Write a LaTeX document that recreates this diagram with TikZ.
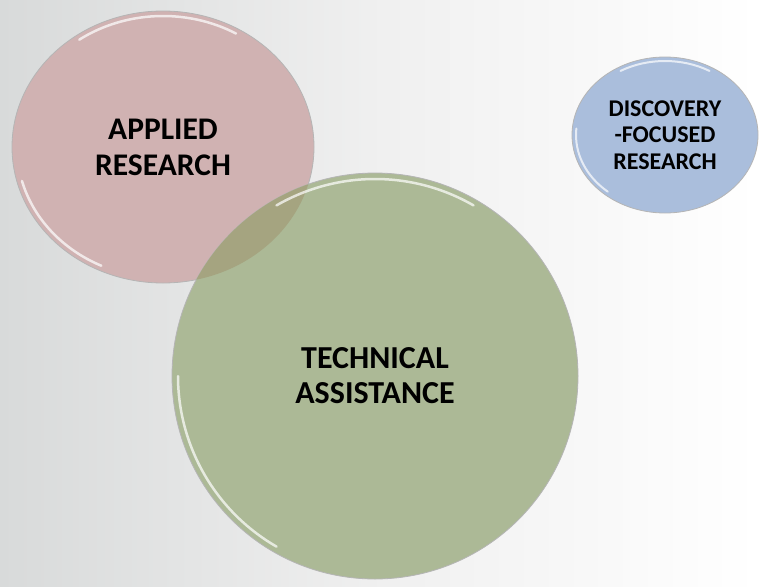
\documentclass[tikz,border=0pt]{standalone}
\usepackage{fontspec}
\setmainfont{Carlito}
\usetikzlibrary{shapes.geometric}
\definecolor{bgL}{RGB}{216,218,218}
\definecolor{pinkF}{RGB}{208,178,178}
\definecolor{greenF}{RGB}{172,185,150}
\definecolor{blueF}{RGB}{170,190,220}
\definecolor{overlapF}{RGB}{165,164,128}
\definecolor{rimC}{RGB}{150,150,150}
\tikzset{
  bubble/.style={ellipse, inner sep=0pt, draw=rimC!70, line width=0.8pt, align=center, font=\bfseries},
  gloss/.style={draw=white, line width=2.5pt, opacity=0.7, line cap=round}
}
\begin{document}
\begin{tikzpicture}[x=1pt,y=-1pt]
\useasboundingbox (0,0) rectangle (759,586);
\shade[left color=bgL, right color=white, middle color=black!6] (0,0) rectangle (759,586);
% applied research
\node[bubble, fill=pinkF, minimum width=302pt, minimum height=272pt, font=\bfseries\fontsize{31.5}{36}\selectfont] (ar) at (163,147) {APPLIED\\RESEARCH};
% technical assistance
\node[bubble, fill=greenF, minimum width=406pt, minimum height=406pt, font=\bfseries\fontsize{32}{35}\selectfont] (ta) at (375,376) {TECHNICAL\\ASSISTANCE};
\begin{scope}
  \clip (163,147) ellipse [x radius=151, y radius=136];
  \fill[overlapF] (375,376) circle [radius=203];
\end{scope}
\draw[gloss] (163,147) ++(235:146 and 131) arc[start angle=235, end angle=300, x radius=146, y radius=131];
\draw[gloss] (163,147) ++(115:146 and 131) arc[start angle=115, end angle=165, x radius=146, y radius=131];
\draw[gloss] (375,376) ++(240:197) arc[start angle=240, end angle=300, radius=197];
\draw[gloss] (375,376) ++(120:197) arc[start angle=120, end angle=180, radius=197];
% discovery
\node[bubble, fill=blueF, minimum width=186pt, minimum height=156pt, font=\bfseries\fontsize{24}{26.5}\selectfont] (dfr) at (665,135) {DISCOVERY\\-FOCUSED\\RESEARCH};
\draw[gloss, line width=2pt] (665,135) ++(240:89 and 74) arc[start angle=240, end angle=300, x radius=89, y radius=74];
\draw[gloss, line width=2pt] (665,135) ++(130:89 and 74) arc[start angle=130, end angle=185, x radius=89, y radius=74];
\end{tikzpicture}
\end{document}
